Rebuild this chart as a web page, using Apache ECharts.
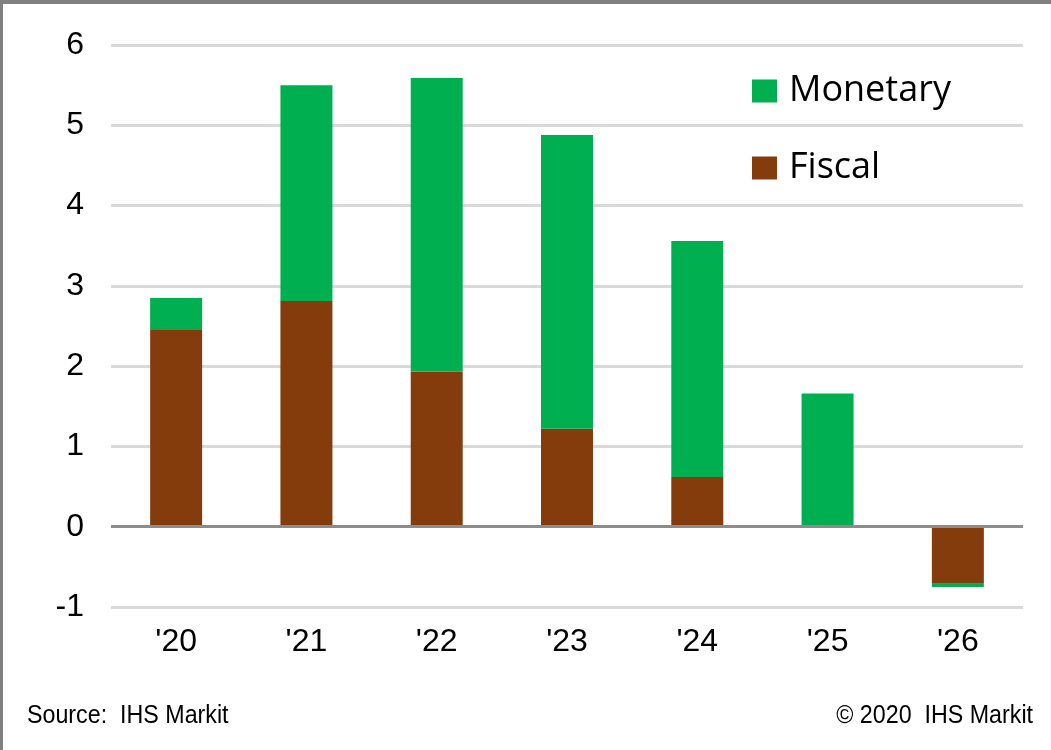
<!DOCTYPE html>
<html>
<head>
<meta charset="utf-8">
<script src="https://cdn.jsdelivr.net/npm/echarts@6/dist/echarts.min.js"></script>
<style>
  html, body { margin: 0; padding: 0; background: #fff; }
  #frame { position: absolute; left: 0; top: 0; width: 1051px; height: 750px; box-sizing: border-box;
           border-top: 4px solid #808080; border-left: 3px solid #808080; pointer-events: none; }
  #chart { position: absolute; left: 0; top: 0; width: 1051px; height: 750px; }
</style>
</head>
<body>
<div id="chart"></div>
<div id="frame"></div>
<script>
// Years on the x axis
const categories = ["'20", "'21", "'22", "'23", "'24", "'25", "'26"];
// Fiscal contribution (bottom of stack)
const fiscal = [2.45, 2.81, 1.93, 1.22, 0.62, 0.0, -0.71];
// Monetary contribution (stacked above fiscal)
const monetary = [0.40, 2.69, 3.66, 3.66, 2.94, 1.66, -0.04];
// Value axis range
const yMin = -1, yMax = 6, yStep = 1;

const GREEN = '#00B050';
const BROWN = '#843C0C';
const axisFont = 'Liberation Sans, Arial, sans-serif';
const legendFont = 'Open Sans, Lato, sans-serif';
const footFont = '25px "Liberation Sans", Arial, sans-serif';

const chart = echarts.init(document.getElementById('chart'), null, { renderer: 'canvas' });
chart.setOption({
  animation: false,
  backgroundColor: '#fff',
  grid: { left: 111, right: 28, top: 45, bottom: 143, containLabel: false },
  legend: {
    data: ['Monetary', 'Fiscal'],
    orient: 'vertical',
    left: 752, top: 73, padding: 0,
    itemWidth: 25, itemHeight: 23, itemGap: 41,
    icon: 'rect',
    textStyle: { fontFamily: legendFont, fontSize: 36, color: '#000', padding: [5, 0, 0, 7] },
    selectedMode: false
  },
  xAxis: {
    type: 'category',
    data: categories,
    position: 'bottom',
    axisLine: { show: false },
    axisTick: { show: false },
    axisLabel: { color: '#000', fontFamily: axisFont, fontSize: 32, margin: 19 }
  },
  yAxis: {
    type: 'value',
    min: yMin, max: yMax, interval: yStep,
    axisLine: { show: false },
    axisTick: { show: false },
    axisLabel: { color: '#000', fontFamily: axisFont, fontSize: 32, margin: 27 },
    splitLine: { lineStyle: { color: '#d9d9d9', width: 3 } }
  },
  series: [
    {
      name: 'Fiscal', type: 'bar', stack: 'total', barWidth: 52,
      itemStyle: { color: BROWN },
      data: fiscal,
      markLine: {
        silent: true, symbol: 'none', label: { show: false },
        lineStyle: { color: '#8c8c8c', width: 3, type: 'solid' },
        data: [{ yAxis: 0 }], z: 10
      }
    },
    {
      name: 'Monetary', type: 'bar', stack: 'total', barWidth: 52,
      itemStyle: { color: GREEN },
      data: monetary
    }
  ],
  graphic: [
    { type: 'text', x: 27, y: 716, scaleX: 0.93,
      style: { text: 'Source:  IHS Markit', font: footFont, fill: '#000', verticalAlign: 'middle' } },
    { type: 'text', x: 1033, y: 716, scaleX: 0.93,
      style: { text: '\u00A9 2020  IHS Markit', font: footFont, fill: '#000', align: 'right', verticalAlign: 'middle' } }
  ]
});
</script>
</body>
</html>
